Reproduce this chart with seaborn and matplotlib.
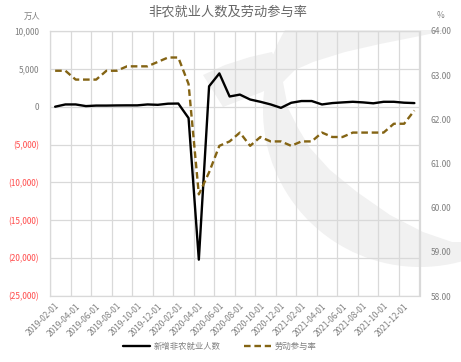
import matplotlib
matplotlib.use("Agg")
import matplotlib.pyplot as plt
import numpy as np
import pandas as pd
import seaborn as sns
from matplotlib.patches import Circle, Polygon, Rectangle
from matplotlib.lines import Line2D
from matplotlib.ticker import FuncFormatter, FixedLocator

# ---------------- data ----------------
months = pd.date_range("2019-02-01", "2022-01-01", freq="MS").strftime("%Y-%m-%d").tolist()
nonfarm = [1, 300, 300, 80, 150, 150, 170, 180, 180, 300, 250, 400, 420,
           -1500, -20200, 2700, 4400, 1350, 1600, 950, 650, 300, -150, 520,
           750, 750, 300, 480, 570, 650, 570, 450, 650, 650, 530, 480]
participation = [63.1, 63.1, 62.9, 62.9, 62.9, 63.1, 63.1, 63.2, 63.2, 63.2, 63.3, 63.4, 63.4,
                 62.8, 60.3, 60.8, 61.4, 61.5, 61.7, 61.4, 61.6, 61.5, 61.5, 61.4,
                 61.5, 61.5, 61.7, 61.6, 61.6, 61.7, 61.7, 61.7, 61.7, 61.9, 61.9, 62.2]
tick_labels = months[::2]
title = "非农就业人数及劳动参与率"
series_names = ["新增非农就业人数", "劳动参与率"]

df = pd.DataFrame({"idx": np.arange(len(months)), "month": months,
                   "nonfarm": nonfarm, "participation": participation})

# ---------------- style ----------------
sns.set_theme(style="white")
plt.rcParams["font.family"] = ["Noto Sans CJK SC", "DejaVu Sans"]

W, H = 461, 362
fig = plt.figure(figsize=(W / 100, H / 100), dpi=100)

# background watermark (decorative)
bg = fig.add_axes([0, 0, 1, 1], zorder=0)
bg.set_xlim(0, W)
bg.set_ylim(H, 0)
bg.axis("off")
wm = "#f1f1f1"
clip = Rectangle((0, 30), W, 260, transform=bg.transData, fill=False, lw=0)
bg.add_patch(clip)
ring = Circle((420, 110), 157, color=wm, lw=0)
bg.add_patch(ring)
ring.set_clip_path(clip)
hole = [(283, 82), (288, 108), (298, 128), (310, 148), (330, 170), (357, 192), (390, 215),
        (423, 232), (452, 242), (470, 242), (470, 10), (452, 10), (448, 30), (420, 36),
        (380, 44), (345, 52), (313, 62), (295, 70)]
bg.add_patch(Polygon(hole, closed=True, color="white", lw=0))
bg.add_patch(Polygon([(203, 75), (225, 65), (250, 57), (272, 52), (285, 80), (262, 92), (223, 107)],
                     closed=True, color=wm, lw=0))

left, right, top, bottom = 50, 419.5, 31, 296
ax = fig.add_axes([left / W, 1 - bottom / H, (right - left) / W, (bottom - top) / H], zorder=1)
ax.patch.set_alpha(0)

grid_c = "#d9d9d9"
txt_c = "#7f7f7f"
gold = "#846414"
fs = 6.0

sns.lineplot(data=df, x="idx", y="nonfarm", ax=ax, color="black", lw=1.7, zorder=3)
ax.set_xlim(-0.5, len(months) - 0.5)
ax.set_ylim(-25000, 10000)
ax.set_yticks(np.arange(-25000, 10001, 5000))

def lfmt(v, p):
    if v < 0:
        return "({:,.0f})".format(-v)
    return "{:,.0f}".format(v)
ax.yaxis.set_major_formatter(FuncFormatter(lfmt))

ax.set_xticks(np.arange(0, len(months), 2))
ax.set_xticklabels(tick_labels, rotation=45, ha="right", va="top", rotation_mode="anchor",
                   fontsize=fs, color=txt_c)
ax.xaxis.set_minor_locator(FixedLocator(np.arange(-0.5, len(months), 2)))
ax.grid(False)
ax.grid(True, which="minor", axis="x", color=grid_c, lw=0.9)
ax.grid(True, which="major", axis="y", color=grid_c, lw=0.9)
ax.set_axisbelow(True)
ax.tick_params(axis="x", which="both", length=0, pad=4)
ax.tick_params(axis="y", length=0, pad=8, labelsize=fs, labelcolor=txt_c)
for lbl, v in zip(ax.get_yticklabels(), ax.get_yticks()):
    if v < 0:
        lbl.set_color("#ff4b4b")
for s in ax.spines.values():
    s.set_color(grid_c)
    s.set_linewidth(0.9)
ax.set_xlabel("")
ax.set_ylabel("")

ax2 = ax.twinx()
ax2.set_zorder(2)
sns.lineplot(data=df, x="idx", y="participation", ax=ax2, color=gold, lw=1.7,
             linestyle=(0, (2.8, 1.6)))
ax2.set_ylim(58, 64)
ax2.set_yticks(np.arange(58, 64.01, 1))
ax2.yaxis.set_major_formatter(FuncFormatter(lambda v, p: "{:.2f}".format(v)))
ax2.tick_params(axis="y", length=0, pad=8, labelsize=fs, labelcolor=txt_c)
ax2.grid(False)
for s in ax2.spines.values():
    s.set_visible(False)
ax2.set_ylabel("")
ax2.set_xlim(-0.5, len(months) - 0.5)

fig.text(228 / W, 1 - 12 / H, title, ha="center", va="center", fontsize=9.5, color="#666666")
fig.text(32 / W, 1 - 16 / H, "万人", ha="center", va="center", fontsize=fs, color=txt_c)
fig.text(440 / W, 1 - 15 / H, "%", ha="center", va="center", fontsize=fs, color=txt_c)

handles = [Line2D([], [], color="black", lw=1.7),
           Line2D([], [], color=gold, lw=1.7, linestyle=(0, (2.8, 1.6)))]
fig.legend(handles, series_names, loc="center", bbox_to_anchor=(220 / W, 1 - 346 / H),
           ncol=2, frameon=False, fontsize=fs, labelcolor=txt_c, handlelength=3.2,
           columnspacing=2.8, handletextpad=0.5)

fig.savefig("out.png", dpi=100)
